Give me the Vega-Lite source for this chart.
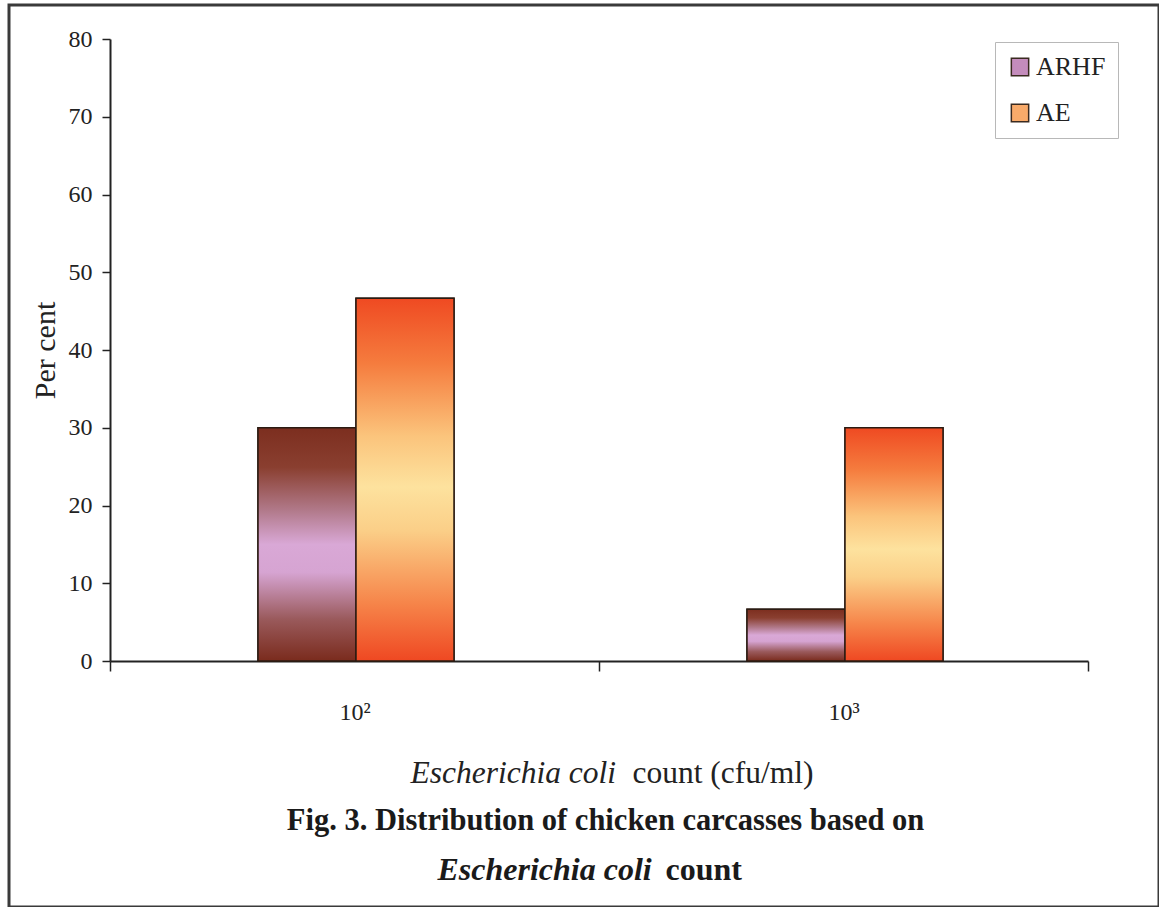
{
  "$schema": "https://vega.github.io/schema/vega-lite/v6.json",
  "autosize": {"type": "none"},
  "padding": {"left": 9, "top": 5, "right": 0, "bottom": 0},
  "width": 1150,
  "height": 902,
  "background": "#ffffff",
  "config": {
    "view": {"stroke": "#3a3a3a", "strokeWidth": 3, "fill": "#ffffff"},
    "font": "Liberation Serif",
    "axis": {"grid": false}
  },
  "data": {
    "values": [
      {"count": "10²", "series": "ARHF", "percent": 30},
      {"count": "10²", "series": "AE", "percent": 46.67},
      {"count": "10³", "series": "ARHF", "percent": 6.67},
      {"count": "10³", "series": "AE", "percent": 30}
    ]
  },
  "resolve": {"axis": {"x": "independent", "y": "independent"}},
  "layer": [
    {
      "mark": {"type": "bar", "stroke": "#2b1b12", "strokeWidth": 1.5, "opacity": 1},
      "encoding": {
        "x": {
          "field": "count", "type": "nominal",
          "scale": {"domain": ["10²", "10³"], "range": [101, 1079], "paddingInner": 0, "paddingOuter": 0},
          "axis": {
            "orient": "bottom", "offset": -246,
            "domain": true, "domainColor": "#222222", "domainWidth": 2,
            "ticks": true, "tickBand": "extent", "tickSize": 10, "tickWidth": 1.5, "tickColor": "#222222",
            "labelAngle": 0, "labelFont": "Liberation Serif", "labelFontSize": 24, "labelColor": "#222222", "labelPadding": 29,
            "title": "Escherichia coli", "titleFont": "Liberation Serif", "titleFontSize": 31.5, "titleFontStyle": "italic",
            "titleFontWeight": "normal", "titleColor": "#222222",
            "titleX": 401, "titleY": 121, "titleAlign": "left", "titleBaseline": "alphabetic"
          }
        },
        "xOffset": {
          "field": "series", "type": "nominal",
          "scale": {"domain": ["ARHF", "AE"], "range": [148, 344], "paddingInner": 0, "paddingOuter": 0}
        },
        "y": {
          "field": "percent", "type": "quantitative",
          "scale": {"domain": [0, 80], "range": [656, 34], "nice": false},
          "axis": {
            "orient": "left", "offset": -101,
            "values": [0, 10, 20, 30, 40, 50, 60, 70, 80],
            "domain": true, "domainColor": "#222222", "domainWidth": 2,
            "ticks": true, "tickSize": 8, "tickWidth": 1.5, "tickColor": "#222222",
            "labelFont": "Liberation Serif", "labelFontSize": 24, "labelColor": "#222222", "labelPadding": 10,
            "title": "Per cent", "titleFont": "Liberation Serif", "titleFontSize": 30, "titleFontWeight": "normal",
            "titleColor": "#222222", "titleAngle": -90,
            "titleX": -65, "titleY": 345, "titleAlign": "center", "titleBaseline": "middle"
          }
        },
        "color": {
          "field": "series", "type": "nominal",
          "scale": {"domain": ["ARHF", "AE"], "range": ["#c48cbc", "#f8aa6a"]},
          "legend": {
            "title": null, "orient": "none", "legendX": 986, "legendY": 37, "direction": "vertical",
            "symbolType": "square", "symbolSize": 300, "symbolStrokeColor": "#3a2a20", "symbolStrokeWidth": 1.5,
            "symbolOpacity": 1,
            "labelFont": "Liberation Serif", "labelFontSize": 26, "labelColor": "#222222", "labelOffset": 3,
            "rowPadding": 20, "padding": 12, "strokeColor": "#b8b8b8", "fillColor": "#ffffff"
          }
        }
      }
    },
    {
      "transform": [{"filter": "datum.series === 'ARHF'"}],
      "mark": {
        "type": "bar", "stroke": "#2b1b12", "strokeWidth": 1.5,
        "fill": {
          "gradient": "linear", "x1": 0, "y1": 0, "x2": 0, "y2": 1,
          "stops": [
            {"offset": 0, "color": "#7c2e1f"},
            {"offset": 0.17, "color": "#8a3f30"},
            {"offset": 0.35, "color": "#b07888"},
            {"offset": 0.5, "color": "#d9a8d6"},
            {"offset": 0.62, "color": "#d6a4d2"},
            {"offset": 0.82, "color": "#9a5a5c"},
            {"offset": 1, "color": "#7a2b1d"}
          ]
        }
      },
      "encoding": {
        "x": {
          "field": "count", "type": "nominal",
          "scale": {"domain": ["10²", "10³"], "range": [101, 1079], "paddingInner": 0, "paddingOuter": 0},
          "axis": {
            "orient": "bottom", "offset": -246,
            "domain": false, "ticks": false, "labels": false,
            "title": "count (cfu/ml)", "titleFont": "Liberation Serif", "titleFontSize": 31.5,
            "titleFontWeight": "normal", "titleColor": "#222222",
            "titleX": 623, "titleY": 121, "titleAlign": "left", "titleBaseline": "alphabetic"
          }
        },
        "xOffset": {
          "field": "series", "type": "nominal",
          "scale": {"domain": ["ARHF", "AE"], "range": [148, 344], "paddingInner": 0, "paddingOuter": 0}
        },
        "y": {
          "field": "percent", "type": "quantitative",
          "scale": {"domain": [0, 80], "range": [656, 34], "nice": false},
          "axis": {
            "orient": "left", "offset": -101,
            "domain": false, "ticks": false, "labels": false,
            "title": "Fig. 3. Distribution of chicken carcasses based on",
            "titleFont": "Liberation Serif", "titleFontSize": 30.5, "titleFontWeight": "bold", "titleColor": "#1a1a1a",
            "titleAngle": 0, "titleX": 495, "titleY": 824, "titleAlign": "center", "titleBaseline": "alphabetic"
          }
        }
      }
    },
    {
      "transform": [{"filter": "datum.series === 'AE'"}],
      "mark": {
        "type": "bar", "stroke": "#2b1b12", "strokeWidth": 1.5,
        "fill": {
          "gradient": "linear", "x1": 0, "y1": 0, "x2": 0, "y2": 1,
          "stops": [
            {"offset": 0, "color": "#ef4a22"},
            {"offset": 0.18, "color": "#f57c3e"},
            {"offset": 0.38, "color": "#fbc47c"},
            {"offset": 0.52, "color": "#fde29e"},
            {"offset": 0.64, "color": "#fbcf88"},
            {"offset": 0.84, "color": "#f6854a"},
            {"offset": 1, "color": "#ef4822"}
          ]
        }
      },
      "encoding": {
        "x": {
          "field": "count", "type": "nominal",
          "scale": {"domain": ["10²", "10³"], "range": [101, 1079], "paddingInner": 0, "paddingOuter": 0},
          "axis": {
            "orient": "bottom", "offset": -246,
            "domain": false, "ticks": false, "labels": false,
            "title": "Escherichia coli", "titleFont": "Liberation Serif", "titleFontSize": 32,
            "titleFontWeight": "bold", "titleFontStyle": "italic", "titleColor": "#1a1a1a",
            "titleX": 428, "titleY": 218, "titleAlign": "left", "titleBaseline": "alphabetic"
          }
        },
        "xOffset": {
          "field": "series", "type": "nominal",
          "scale": {"domain": ["ARHF", "AE"], "range": [148, 344], "paddingInner": 0, "paddingOuter": 0}
        },
        "y": {
          "field": "percent", "type": "quantitative",
          "scale": {"domain": [0, 80], "range": [656, 34], "nice": false},
          "axis": {
            "orient": "left", "offset": -101,
            "domain": false, "ticks": false, "labels": false,
            "title": "count",
            "titleFont": "Liberation Serif", "titleFontSize": 32, "titleFontWeight": "bold", "titleColor": "#1a1a1a",
            "titleAngle": 0, "titleX": 555, "titleY": 874, "titleAlign": "left", "titleBaseline": "alphabetic"
          }
        }
      }
    }
  ]
}
